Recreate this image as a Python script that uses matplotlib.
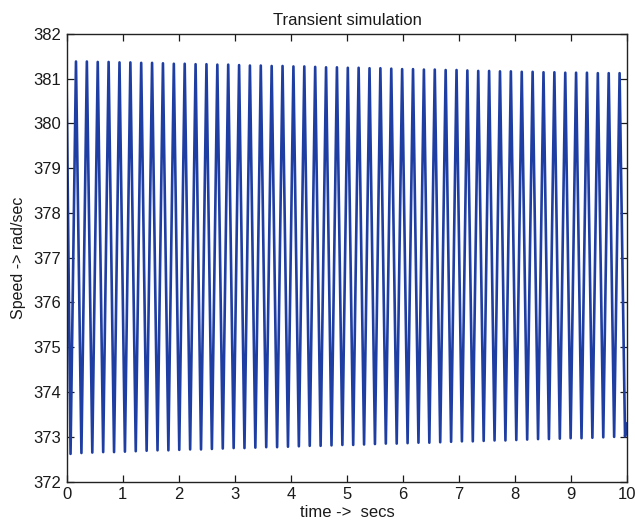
import matplotlib
matplotlib.use("Agg")
import matplotlib.pyplot as plt
import numpy as np

# Rotor speed transient: sampled extrema of the oscillation
start_time, start_speed = 0.0, 380.8
end_time, end_speed = 10.0, 373.3

peak_times = [0.166, 0.360, 0.554, 0.748, 0.942, 1.136, 1.329, 1.523, 1.717, 1.911,
              2.105, 2.299, 2.493, 2.687, 2.881, 3.075, 3.268, 3.462, 3.656, 3.850,
              4.044, 4.238, 4.432, 4.626, 4.820, 5.014, 5.207, 5.401, 5.595, 5.789,
              5.983, 6.177, 6.371, 6.565, 6.759, 6.953, 7.146, 7.340, 7.534, 7.728,
              7.922, 8.116, 8.310, 8.504, 8.698, 8.892, 9.085, 9.279, 9.473, 9.667,
              9.861]
peak_speeds = [381.38, 381.38, 381.37, 381.37, 381.36, 381.36, 381.35, 381.35, 381.34, 381.33,
               381.33, 381.32, 381.32, 381.31, 381.31, 381.30, 381.29, 381.29, 381.28, 381.28,
               381.27, 381.27, 381.26, 381.25, 381.25, 381.24, 381.24, 381.23, 381.23, 381.22,
               381.21, 381.21, 381.20, 381.20, 381.19, 381.19, 381.18, 381.17, 381.17, 381.16,
               381.16, 381.15, 381.15, 381.14, 381.14, 381.13, 381.13, 381.13, 381.12, 381.12,
               381.12]

trough_times = [0.069, 0.263, 0.457, 0.651, 0.845, 1.039, 1.232, 1.426, 1.620, 1.814,
                2.008, 2.202, 2.396, 2.590, 2.784, 2.978, 3.171, 3.365, 3.559, 3.753,
                3.947, 4.141, 4.335, 4.529, 4.723, 4.917, 5.110, 5.304, 5.498, 5.692,
                5.886, 6.080, 6.274, 6.468, 6.662, 6.856, 7.049, 7.243, 7.437, 7.631,
                7.825, 8.019, 8.213, 8.407, 8.601, 8.795, 8.988, 9.182, 9.376, 9.570,
                9.764, 9.958]
trough_speeds = [372.62, 372.64, 372.65, 372.66, 372.66, 372.67, 372.68, 372.69, 372.70, 372.70,
                 372.71, 372.72, 372.72, 372.73, 372.74, 372.75, 372.75, 372.76, 372.77, 372.77,
                 372.78, 372.79, 372.80, 372.80, 372.81, 372.82, 372.82, 372.83, 372.84, 372.85,
                 372.85, 372.86, 372.87, 372.87, 372.88, 372.89, 372.90, 372.90, 372.91, 372.92,
                 372.92, 372.93, 372.94, 372.95, 372.95, 372.96, 372.97, 372.97, 372.98, 372.99,
                 373.00, 373.01]

x_ticks = [0, 1, 2, 3, 4, 5, 6, 7, 8, 9, 10]
y_ticks = [372, 373, 374, 375, 376, 377, 378, 379, 380, 381, 382]

# Merge extrema into one time-ordered trace
t = np.array([start_time] + peak_times + trough_times + [end_time])
w = np.array([start_speed] + peak_speeds + trough_speeds + [end_speed])
order = np.argsort(t)
t, w = t[order], w[order]

plt.rcParams['font.family'] = ['Liberation Sans', 'DejaVu Sans']

fig = plt.figure(figsize=(6.35, 5.27), dpi=100)
ax = fig.add_axes([0.105, 0.086, 0.883, 0.850])

ax.plot(t, w, color='#1f3ea3', linewidth=1.9, solid_joinstyle='round')

ax.set_xlim(0, 10)
ax.set_ylim(372, 382)
ax.set_xticks(x_ticks)
ax.set_yticks(y_ticks)
ax.set_xticklabels([str(v) for v in x_ticks])
ax.set_yticklabels([str(v) for v in y_ticks])
ax.tick_params(direction='in', top=True, right=True, length=5, width=0.9,
               labelsize=12, colors='#1a1a1a', pad=4)
for s in ax.spines.values():
    s.set_linewidth(1.0)
    s.set_color('#222222')

ax.set_title('Transient simulation', fontsize=12, color='#1a1a1a', pad=6)
ax.set_xlabel('time ->  secs', fontsize=12, color='#1a1a1a', labelpad=2)
ax.set_ylabel('Speed -> rad/sec', fontsize=11.5, color='#1a1a1a', labelpad=5)

fig.savefig('out.png', dpi=100)
